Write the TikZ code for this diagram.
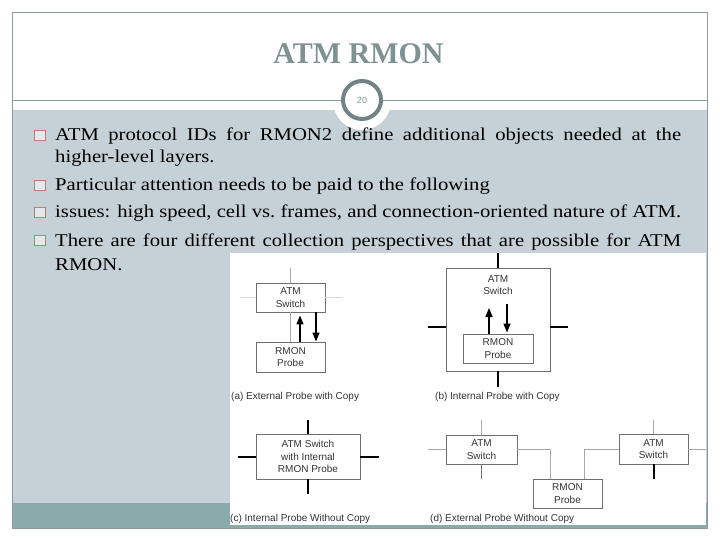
\documentclass[tikz,border=0pt]{standalone}
\usepackage{fontspec}
\setmainfont{Liberation Serif}
\newfontfamily\bodyfont[FakeStretch=1.15]{Liberation Serif}
\newfontfamily\diagfont{Liberation Sans}
\usetikzlibrary{arrows.meta,positioning}
\definecolor{framegray}{HTML}{8C9A9C}
\definecolor{titlegray}{HTML}{7F9292}
\definecolor{panelgray}{HTML}{C6D1D7}
\definecolor{barteal}{HTML}{8AABAB}
\definecolor{bulletbrown}{HTML}{B4806E}
\definecolor{boxgray}{HTML}{6E6E6E}
\definecolor{wiregray}{HTML}{A8A8A8}
\definecolor{inkgray}{HTML}{333333}

\begin{document}
\begin{tikzpicture}[x=1pt, y=-1pt,
  body/.style={anchor=base west, inner sep=0, font=\bodyfont\fontsize{18}{22}\selectfont},
  bullet/.style={draw=bulletbrown, fill=panelgray!50!white, line width=0.8pt, minimum size=10.5pt, inner sep=0},
  swbox/.style={draw=boxgray, line width=0.9pt, fill=white, align=center, inner sep=0, text=inkgray, font=\diagfont\fontsize{10}{12.5}\selectfont},
  caption/.style={anchor=west, inner sep=0, text=inkgray, font=\diagfont\fontsize{10}{12}\selectfont},
  rule/.style={framegray, line width=0.8pt},
  stub/.style={line width=2pt, black},
  wire/.style={line width=0.9pt, wiregray},
  faint/.style={line width=0.7pt, black!15},
  flow/.style={-{Triangle[length=9pt, width=7pt]}, line width=1.4pt}
]
\useasboundingbox (0,0) rectangle (720,540);
\fill[white] (0,0) rectangle (720,540);
\fill[panelgray] (12,110) rectangle (707,503);
\fill[barteal] (12,503) rectangle (707,528);
\draw[rule] (12,12) rectangle (707,528);

\node[anchor=base, text=titlegray, font=\fontsize{30}{30}\selectfont\bfseries] (title) at (358.5,64) {ATM RMON};
\fill[white] (362,101) circle (29);
\node[circle, draw=titlegray!90!black, line width=4pt, fill=white, minimum size=38pt, inner sep=0,
  text=titlegray, font=\diagfont\fontsize{9}{9}\selectfont] (pagenum) at (362,100) {20};
\coordinate (ruleL) at (12,100);
\coordinate (ruleR) at (707,100);
\draw[rule] (ruleL) -- (pagenum);
\draw[rule] (pagenum) -- (ruleR);

\node[bullet] (b1) at (40,135.5) {};
\node[body] (l1) at (55,141) {\makebox[626pt][s]{ATM protocol IDs for RMON2 define additional objects needed at the}};
\node[body] (l2) at (55,163) {higher-level layers.};
\node[bullet] (b2) at (40,185.5) {};
\node[body] (l3) at (55,191) {Particular attention needs to be paid to the following};
\node[bullet] (b3) at (40,212.5) {};
\node[body] (l4) at (55,218) {issues: high speed, cell vs.\ frames, and connection-oriented nature of ATM.};
\node[bullet] (b4) at (40,240.5) {};
\node[body] (l5) at (55,246) {\makebox[626pt][s]{There are four different collection perspectives that are possible for ATM}};
\node[body] (l6) at (55,270) {RMON.};

\fill[white] (230,253) rectangle (706,525);

% (a)
\node[swbox, minimum width=69pt, minimum height=29pt] (swA) at (290.5,297.5) {ATM\\Switch};
\node[swbox, minimum width=69pt, minimum height=30pt] (prA) at (290.5,357) {RMON\\Probe};
\coordinate (topA) at (290.5,268);
\coordinate (westA) at (240,297.5);
\coordinate (eastA) at (343,297.5);
\draw[wire] (topA) -- (swA);
\draw[wire] (swA) -- (prA);
\draw[faint] (westA) -- (swA);
\draw[faint] (swA) -- (eastA);
\draw[flow] ([xshift=9.5]prA.north) -- ([xshift=9.5,yshift=-3]swA.south);
\draw[flow] ([xshift=25.5]swA.south) -- ([xshift=25.5]prA.north);
\node[caption] (capA) at (231,397) {(a) External Probe with Copy};

% (b)
\node[swbox, fill=none, minimum width=104pt, minimum height=103pt] (swB) at (498,319.5) {};
\node[inner sep=0, align=center, text=inkgray, font=\diagfont\fontsize{10}{12.5}\selectfont] (swBtext) at (498,285) {ATM\\Switch};
\node[swbox, minimum width=70pt, minimum height=29pt] (prB) at (498,348.5) {RMON\\Probe};
\coordinate (topB) at (498,253);
\coordinate (botB) at (498,387);
\coordinate (westB) at (428,327);
\coordinate (eastB) at (568,327);
\draw[stub] (topB) -- (swB.north);
\draw[stub] (swB.south) -- (botB);
\draw[stub] (westB) -- (westB -| swB.west);
\draw[stub] (eastB -| swB.east) -- (eastB);
\coordinate (upB) at (489,308);
\coordinate (downB) at (507,304);
\draw[flow] (upB |- prB.north) -- (upB);
\draw[flow] (downB) -- ([yshift=1]downB |- prB.north);
\node[caption] (capB) at (435,397) {(b) Internal Probe with Copy};

% (c)
\node[swbox, minimum width=104pt, minimum height=45pt] (swC) at (308,456.5) {ATM Switch\\with Internal\\RMON Probe};
\coordinate (topC) at (308,420);
\coordinate (botC) at (308,494);
\coordinate (westC) at (238,456.5);
\coordinate (eastC) at (379,456.5);
\draw[stub] (topC) -- (swC);
\draw[stub] (swC) -- (botC);
\draw[stub] (westC) -- (swC);
\draw[stub] (swC) -- (eastC);
\node[caption] (capC) at (230,519) {(c) Internal Probe Without Copy};

% (d)
\node[swbox, minimum width=71pt, minimum height=29pt] (swD) at (481.5,449.5) {ATM\\Switch};
\node[swbox, minimum width=69pt, minimum height=29pt] (prD) at (567.5,493.5) {RMON\\Probe};
\node[swbox, minimum width=69pt, minimum height=30pt] (swE) at (653.5,449) {ATM\\Switch};
\coordinate (westD) at (428,449.5);
\coordinate (topD) at (481.5,420);
\coordinate (botD) at (481.5,479);
\coordinate (topE) at (653.5,420);
\coordinate (botE) at (653.5,479);
\coordinate (eastE) at (706,449);
\draw[wire] (westD) -- (swD);
\draw[wire] (topD) -- (swD);
\draw[line width=1.6pt, black!55] (swD) -- (botD);
\draw[wire] (swD.east) -| ([xshift=-17.5]prD.north);
\draw[wire] (swE.west) -| ([xshift=16.5]prD.north);
\draw[wire] (topE) -- (swE);
\draw[stub] (swE) -- (botE);
\draw[wire] (swE) -- (eastE);
\node[caption] (capD) at (430,519) {(d) External Probe Without Copy};
\end{tikzpicture}
\end{document}
